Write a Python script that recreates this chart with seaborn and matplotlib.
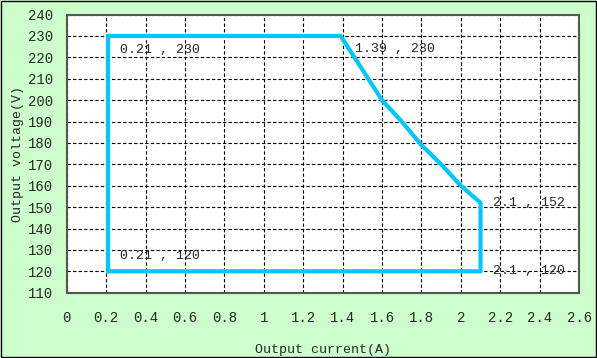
# Output voltage vs output current operating envelope

import pandas as pd
import matplotlib
matplotlib.use("Agg")
import matplotlib.pyplot as plt
import seaborn as sns
from matplotlib.patches import Rectangle

# Envelope corners and the curved part
current = [0.21, 0.21, 1.39, 1.6, 1.7, 1.8, 1.9, 2.0, 2.1, 2.1, 0.21]
voltage = [120, 230, 230, 200, 190, 179, 170, 160, 152, 120, 120]

# Labelled points
label_x = [0.21, 1.39, 2.1, 2.1, 0.21]
label_y = [230, 230, 152, 120, 120]
label_text = ["0.21 , 230", "1.39 , 230", "2.1 , 152", "2.1 , 120", "0.21 , 120"]

x_ticks = [0, 0.2, 0.4, 0.6, 0.8, 1, 1.2, 1.4, 1.6, 1.8, 2, 2.2, 2.4, 2.6]
x_tick_labels = ["0", "0.2", "0.4", "0.6", "0.8", "1", "1.2", "1.4", "1.6", "1.8", "2", "2.2", "2.4", "2.6"]
y_ticks = list(range(110, 241, 10))

envelope_df = pd.DataFrame({"current": current, "voltage": voltage})

sns.set_style("white")
plt.rcParams["font.family"] = ["Liberation Mono", "DejaVu Sans Mono"]

fig = plt.figure(figsize=(5.97, 3.58), dpi=100, facecolor="#CCFFCC")
ax = fig.add_axes([0.1117, 0.1824, 0.8583, 0.777])
ax.set_facecolor("white")

sns.lineplot(data=envelope_df, x="current", y="voltage", sort=False, estimator=None,
             color="#00C8FF", linewidth=3, ax=ax, zorder=3)

# Text offsets for each labelled point (in data units)
offsets = [(0.06, -6.5), (0.075, -6.3), (0.065, 0), (0.065, 0), (0.06, 7)]
for px, py, txt, (dx, dy) in zip(label_x, label_y, label_text, offsets):
    ax.text(px + dx, py + dy, txt, fontsize=9.5, ha="left", va="center", zorder=4)

ax.set_xlim(0, 2.6)
ax.set_ylim(110, 240)
ax.set_xticks(x_ticks)
ax.set_xticklabels(x_tick_labels)
ax.set_yticks(y_ticks)
ax.grid(True, color="black", linestyle=(0, (3, 2)), linewidth=0.8)
ax.tick_params(axis="x", length=0, pad=13, labelsize=10)
ax.tick_params(axis="y", length=0, pad=10, labelsize=10)

for spine in ax.spines.values():
    spine.set_color("#555555")
    spine.set_linewidth(1.5)

ax.set_xlabel("Output current(A)", fontsize=9.5, labelpad=14)
ax.set_ylabel("Output voltage(V)", fontsize=9.5, labelpad=3)

# Thin black border round the whole figure
fig.patches.append(Rectangle((0.001, 0.002), 0.997, 0.996, transform=fig.transFigure,
                             fill=False, edgecolor="black", linewidth=1))

plt.savefig("out.png", dpi=100, facecolor=fig.get_facecolor())
